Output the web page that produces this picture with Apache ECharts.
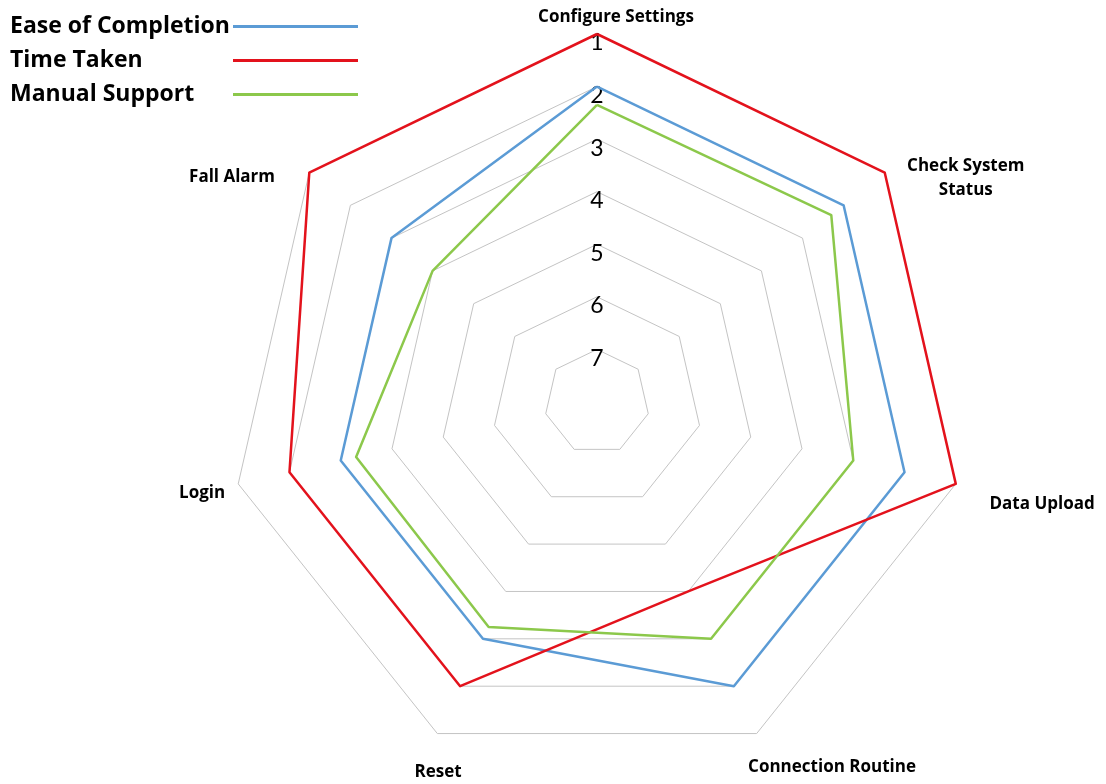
<!DOCTYPE html>
<html>
<head>
<meta charset="utf-8">
<script src="https://cdn.jsdelivr.net/npm/echarts@6/dist/echarts.min.js"></script>
<style>
html, body { margin: 0; padding: 0; background: #fff; }
#chart { width: 1106px; height: 784px; }
</style>
</head>
<body>
<div id="chart"></div>
<script>
// Tasks in radar order (counter-clockwise starting at the top)
const tasks = ['Configure Settings', 'Fall Alarm', 'Login', 'Reset', 'Connection Routine', 'Data Upload', 'Check System Status'];

// Rankings per task (1 = best, drawn on the outer ring)
const easeOfCompletion = [2, 3, 3, 3, 2, 2, 2];
const timeTaken = [1, 1, 2, 2, 4, 1, 1];
const manualSupport = [2.35, 4, 3.3, 3.25, 3, 3, 2.3];

// Ring labels, outer ring first
const rankTicks = ['1', '2', '3', '4', '5', '6', '7'];

const seriesNames = ['Ease of Completion', 'Time Taken', 'Manual Support'];
const seriesColors = ['#5B9BD5', '#E3121C', '#8CC84B'];

// Rank 1 sits on the outside, so ranks are plotted negated on a -8..-1 axis
const toAxis = v => -v;
const BOLD_FONT = '"Open Sans", Lato, sans-serif';
const NUM_FONT = 'Lato, "Open Sans", sans-serif';

// Name placement per task: distance past the outer ring and sideways padding
const nameLayout = {
  'Configure Settings': { gap: 16.5, padding: [0, 0, 0, 38] },
  'Check System Status': { gap: -9.5, padding: [0, 0, 0, 177] },
  'Data Upload': { gap: 92.7, padding: [0, 8, 0, 0] },
  'Connection Routine': { gap: 37.7, padding: [0, 0, 0, 118] },
  'Reset': { gap: 43.2, padding: [0, 0, 0, 39] },
  'Login': { gap: 43.2, padding: [0, 0, 0, 12] },
  'Fall Alarm': { gap: -8, padding: [0, 167, 0, 0] }
};

const indicators = tasks.map((name, i) => {
  const ind = {
    name: name,
    min: -(rankTicks.length + 1),
    max: -1,
    nameGap: nameLayout[name].gap,
    nameTextStyle: { align: 'center', verticalAlign: 'middle', padding: nameLayout[name].padding }
  };
  if (i === 0) {
    ind.axisLabel = { show: true };
  }
  return ind;
});

const chart = echarts.init(document.getElementById('chart'), null, { renderer: 'canvas' });

chart.setOption({
  animation: false,
  backgroundColor: '#ffffff',
  legend: {
    orient: 'vertical',
    left: 10,
    top: 15,
    padding: 0,
    align: 'right',
    itemGap: 11,
    itemWidth: 125,
    itemHeight: 3,
    icon: 'rect',
    formatter: '{t|{name}}',
    textStyle: {
      rich: {
        t: { width: 218, align: 'left', fontFamily: BOLD_FONT, fontWeight: 'bold', fontSize: 23, color: '#000' }
      }
    },
    data: seriesNames
  },
  radar: {
    center: [597, 402],
    radius: 368,
    startAngle: 90,
    splitNumber: rankTicks.length,
    shape: 'polygon',
    indicator: indicators,
    axisName: {
      color: '#000',
      fontFamily: BOLD_FONT,
      fontWeight: 'bold',
      fontSize: 17,
      lineHeight: 24,
      formatter: name => name.replace('System ', 'System\n')
    },
    axisNameGap: 12,
    axisLine: { show: false },
    axisTick: { show: false },
    axisLabel: {
      show: false,
      margin: 0,
      align: 'center',
      verticalAlign: 'top',
      lineHeight: 18,
      color: '#000',
      fontFamily: NUM_FONT,
      fontSize: 23,
      formatter: v => rankTicks[-v - 1] || ''
    },
    splitLine: { lineStyle: { color: '#c4c4c4', width: 1 } },
    splitArea: { show: false }
  },
  series: [{
    type: 'radar',
    symbol: 'none',
    silent: true,
    data: [
      { name: seriesNames[0], value: easeOfCompletion.map(toAxis), lineStyle: { color: seriesColors[0], width: 2.5 }, itemStyle: { color: seriesColors[0] } },
      { name: seriesNames[1], value: timeTaken.map(toAxis), lineStyle: { color: seriesColors[1], width: 2.5 }, itemStyle: { color: seriesColors[1] } },
      { name: seriesNames[2], value: manualSupport.map(toAxis), lineStyle: { color: seriesColors[2], width: 2.5 }, itemStyle: { color: seriesColors[2] } }
    ]
  }]
});
</script>
</body>
</html>
